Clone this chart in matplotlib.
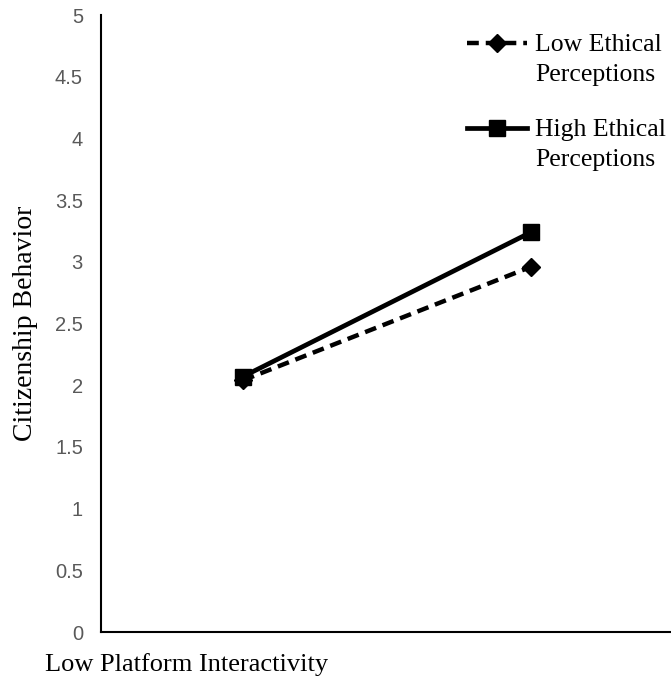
import numpy as np
import matplotlib.pyplot as plt
from matplotlib.legend_handler import HandlerLine2D

# simple slopes plot: citizenship behavior by platform interactivity

##data
levels = [1, 2]
low_ethical = [2.04, 2.96]
high_ethical = [2.07, 3.24]
series_names = ['Low Ethical\nPerceptions', 'High Ethical\nPerceptions']
y_ticks = np.arange(0, 5.01, 0.5)
y_tick_labels = ['0', '0.5', '1', '1.5', '2', '2.5', '3', '3.5', '4', '4.5', '5']


# legend handle sits on the first text line, not the middle of the label
class TopLineHandler(HandlerLine2D):
    def create_artists(self, legend, orig_handle, xdescent, ydescent,
                       width, height, fontsize, trans):
        shift = 0.64 * fontsize
        return super().create_artists(legend, orig_handle, xdescent, ydescent - 2 * shift,
                                      width, height, fontsize, trans)


plt.rcParams['lines.scale_dashes'] = False

fig = plt.figure(figsize=(6.71, 6.84), dpi=100)
ax = fig.add_axes([0.1505, 0.076, 0.8495, 0.902])

ax.plot(levels, low_ethical, color='black', lw=3.2, dashes=(8.5, 5),
        marker='D', ms=9.5, label=series_names[0], zorder=3)
ax.plot(levels, high_ethical, color='black', lw=3.4, ls='-',
        marker='s', ms=12, label=series_names[1], zorder=4)

ax.set_xlim(0.507, 2.486)
ax.set_ylim(0, 5)
ax.set_yticks(y_ticks)
ax.set_yticklabels(y_tick_labels, family='Liberation Sans', fontsize=14.5, color='#595959')
ax.set_xticks([])
ax.tick_params(axis='y', length=0, pad=13)
ax.spines['top'].set_visible(False)
ax.spines['right'].set_visible(False)
ax.spines['left'].set_linewidth(1.5)
ax.spines['bottom'].set_linewidth(1.5)

ax.set_ylabel('Citizenship Behavior', family='Liberation Serif', fontsize=20, labelpad=12)
fig.text(0.067, 0.028, 'Low Platform Interactivity', family='Liberation Serif',
         fontsize=19, ha='left', va='center')

leg = ax.legend(loc='upper left', bbox_to_anchor=(0.696, 0.95), bbox_transform=fig.transFigure,
                frameon=False, prop={'family': 'Liberation Serif', 'size': 18.5},
                handlelength=2.35, handletextpad=0.3, labelspacing=1.3,
                borderpad=0, borderaxespad=0,
                handler_map={plt.Line2D: TopLineHandler()})
for t in leg.get_texts():
    t.set_linespacing(1.45)

fig.savefig('out.png', dpi=100)
